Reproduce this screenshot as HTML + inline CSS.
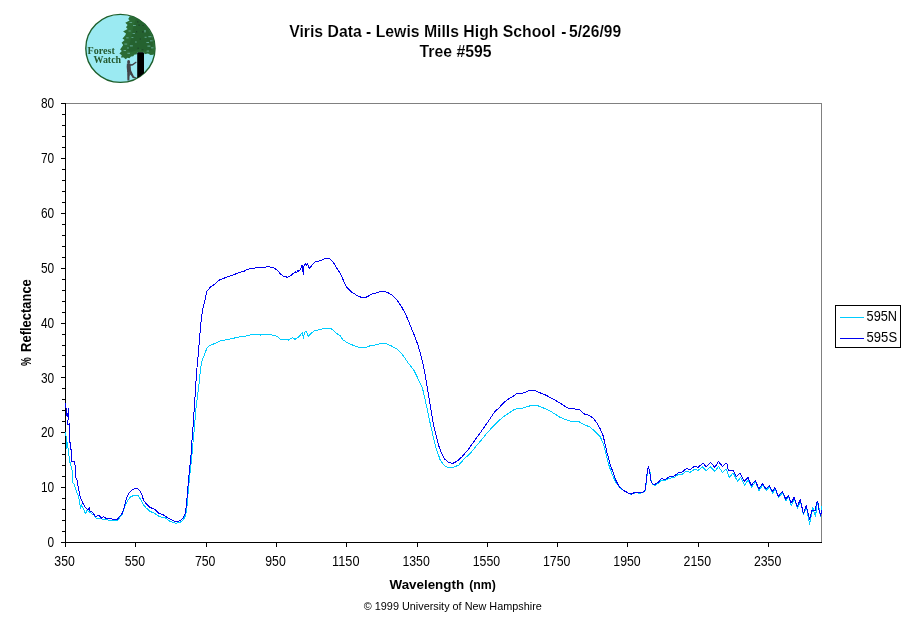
<!DOCTYPE html>
<html lang="en"><head><meta charset="utf-8"><title>Viris Data - Lewis Mills High School - 5/26/99 - Tree #595</title>
<style>html,body{margin:0;padding:0;background:#fff;}body{width:911px;height:623px;overflow:hidden;}svg{display:block;}text{font-family:"Liberation Sans",Arial,sans-serif;fill:#000;}.t{font-size:13.9px;}.b{font-weight:bold;}</style></head><body>
<svg width="911" height="623" viewBox="0 0 911 623">
<rect x="0" y="0" width="911" height="623" fill="#fff"/>
<g id="logo">
<defs><clipPath id="lc"><ellipse cx="120.4" cy="48.4" rx="34.5" ry="34"/></clipPath></defs>
<ellipse cx="120.4" cy="48.4" rx="34.6" ry="34.0" fill="#9beaf2" stroke="#1e5f2c" stroke-width="1.4"/>
<g clip-path="url(#lc)">
<path d="M131.2 14 L128.2 19.1 L129.6 20.5 L125.3 22.8 L127.6 25 L126 27.2 L127.6 29 L123.1 31.6 L126 33.5 L125.3 35.3 L122.5 38.5 L124.6 40 L121.6 42.7 L123.2 45 L120.1 49.4 L121.8 51 L119.4 53.6 L121.8 55.2 L120.9 57.6 L123.8 57.6 L125.6 59.2 L127.6 57.8 L129.4 58.2 L131 56.4 L133.2 56.2 L134.6 54.6 L136.6 54.4 L137.2 52.6 L144 52.6 L144.6 54.2 L148 53.6 L150.5 55.1 L153.4 54.8 L156 52 L160 50 L160 10 Z" fill="#2b6c35"/>
<path d="M136 18 L140 20 L146 26 L150 33 L153 42 L152 50 L146 51 L141 49 L136 50.5 L131 52 L127.5 50 L129.5 44 L131.5 36 L133 28 Z" fill="#24602e" opacity="0.8"/>
<g fill="#9beaf2" opacity="0.55">
<rect x="129.5" y="22.2" width="2.6" height="0.8"/><rect x="133" y="25" width="2.8" height="0.9"/><rect x="128.5" y="30.6" width="2.2" height="0.8"/>
<rect x="132.6" y="33.2" width="2.4" height="0.8"/><rect x="126.2" y="37.4" width="2.4" height="0.9"/><rect x="131.4" y="37" width="2" height="0.8"/>
<rect x="124.4" y="43.6" width="2.8" height="0.9"/><rect x="129.8" y="45.4" width="3" height="1"/><rect x="144.6" y="36.8" width="2" height="0.9"/>
<rect x="148.4" y="36.2" width="3" height="1"/><rect x="146.4" y="42" width="2.6" height="0.9"/><rect x="150" y="40.4" width="2.6" height="0.9"/>
<rect x="147.4" y="45.6" width="3" height="1"/><rect x="151" y="47.4" width="2.4" height="0.9"/><rect x="123.6" y="50" width="2.4" height="0.9"/>
<rect x="127.4" y="52.8" width="2.6" height="0.9"/><rect x="146.6" y="50.6" width="2.4" height="0.9"/><rect x="144.4" y="30" width="1.2" height="2.4"/>
<rect x="127" y="47.6" width="2" height="0.8"/><rect x="135" y="41.6" width="1.8" height="0.8"/>
</g>
<g fill="#1c3a2a" opacity="0.85">
<rect x="137" y="21.4" width="1.4" height="1"/><rect x="142.4" y="25" width="1.4" height="0.9"/><rect x="138.6" y="24.4" width="0.9" height="1.6"/>
<rect x="136.2" y="31" width="0.9" height="1.4"/><rect x="142" y="31.4" width="1.6" height="1"/><rect x="141.4" y="49.4" width="2" height="1"/>
<rect x="137.6" y="47.6" width="1" height="1.4"/><rect x="139.8" y="38.4" width="0.9" height="1.2"/>
</g>
<path d="M137.2 79 L137.2 53.4 Q137.2 52.3 138.4 52.3 L142.8 52.3 Q144 52.3 144 53.4 L144 79 Z" fill="#000"/>
<g fill="#434348">
<ellipse cx="128.6" cy="62" rx="1.5" ry="1.9"/>
<path d="M126.9 63.4 L130.3 63.6 L130.7 66.5 L131.1 71.3 L127.2 71.9 L126.7 67 Z"/>
<path d="M129.6 64.3 L132.4 64 L136 61.4 L136.7 62.6 L132.8 65.6 L129.8 66 Z"/>
<path d="M127.2 70.8 L129.7 70.8 L129.4 80.6 L127.4 80.6 Z"/>
<path d="M129.2 70.9 L131.1 70.6 L134 76.4 L136 77.3 L135.8 78.4 L132.7 78 L130.5 74.4 L129.4 76.4 Z"/>
</g>
</g>
<text x="87.6" y="53.7" textLength="27.3" lengthAdjust="spacingAndGlyphs" style="font-family:'Liberation Serif','Times New Roman',serif;font-weight:bold;font-size:9.8px;fill:#265a30">Forest</text>
<text x="93.5" y="62.6" textLength="27.6" lengthAdjust="spacingAndGlyphs" style="font-family:'Liberation Serif','Times New Roman',serif;font-weight:bold;font-size:9.8px;fill:#265a30">Watch</text>
</g>

<text class="b" y="36.8" style="font-size:15.7px;stroke:#fff;stroke-width:0.12px"><tspan x="289.2" textLength="266.2" lengthAdjust="spacingAndGlyphs">Viris Data - Lewis Mills High School</tspan><tspan x="557"> -</tspan><tspan x="564.7" textLength="56.4" lengthAdjust="spacingAndGlyphs"> 5/26/99</tspan></text>
<text class="b" x="419.6" y="57.2" textLength="72" lengthAdjust="spacingAndGlyphs" style="font-size:15.7px;stroke:#fff;stroke-width:0.12px">Tree #595</text>
<g shape-rendering="crispEdges">
<rect x="66" y="103" width="756" height="1" fill="#808080"/>
<rect x="821" y="103" width="1" height="439" fill="#808080"/>
<rect x="65" y="103" width="1" height="444" fill="#000"/>
<rect x="61" y="542" width="761" height="1" fill="#000"/>
<rect x="61" y="542" width="4" height="1" fill="#000"/>
<rect x="62" y="531" width="3" height="1" fill="#000"/>
<rect x="62" y="520" width="3" height="1" fill="#000"/>
<rect x="62" y="509" width="3" height="1" fill="#000"/>
<rect x="62" y="498" width="3" height="1" fill="#000"/>
<rect x="61" y="487" width="4" height="1" fill="#000"/>
<rect x="62" y="476" width="3" height="1" fill="#000"/>
<rect x="62" y="465" width="3" height="1" fill="#000"/>
<rect x="62" y="454" width="3" height="1" fill="#000"/>
<rect x="62" y="443" width="3" height="1" fill="#000"/>
<rect x="61" y="432" width="4" height="1" fill="#000"/>
<rect x="62" y="421" width="3" height="1" fill="#000"/>
<rect x="62" y="410" width="3" height="1" fill="#000"/>
<rect x="62" y="399" width="3" height="1" fill="#000"/>
<rect x="62" y="388" width="3" height="1" fill="#000"/>
<rect x="61" y="377" width="4" height="1" fill="#000"/>
<rect x="62" y="366" width="3" height="1" fill="#000"/>
<rect x="62" y="355" width="3" height="1" fill="#000"/>
<rect x="62" y="345" width="3" height="1" fill="#000"/>
<rect x="62" y="334" width="3" height="1" fill="#000"/>
<rect x="61" y="323" width="4" height="1" fill="#000"/>
<rect x="62" y="312" width="3" height="1" fill="#000"/>
<rect x="62" y="301" width="3" height="1" fill="#000"/>
<rect x="62" y="290" width="3" height="1" fill="#000"/>
<rect x="62" y="279" width="3" height="1" fill="#000"/>
<rect x="61" y="268" width="4" height="1" fill="#000"/>
<rect x="62" y="257" width="3" height="1" fill="#000"/>
<rect x="62" y="246" width="3" height="1" fill="#000"/>
<rect x="62" y="235" width="3" height="1" fill="#000"/>
<rect x="62" y="224" width="3" height="1" fill="#000"/>
<rect x="61" y="213" width="4" height="1" fill="#000"/>
<rect x="62" y="202" width="3" height="1" fill="#000"/>
<rect x="62" y="191" width="3" height="1" fill="#000"/>
<rect x="62" y="180" width="3" height="1" fill="#000"/>
<rect x="62" y="169" width="3" height="1" fill="#000"/>
<rect x="61" y="158" width="4" height="1" fill="#000"/>
<rect x="62" y="147" width="3" height="1" fill="#000"/>
<rect x="62" y="136" width="3" height="1" fill="#000"/>
<rect x="62" y="125" width="3" height="1" fill="#000"/>
<rect x="62" y="114" width="3" height="1" fill="#000"/>
<rect x="61" y="103" width="4" height="1" fill="#000"/>
<rect x="65" y="542" width="1" height="5" fill="#000"/>
<rect x="135" y="542" width="1" height="5" fill="#000"/>
<rect x="206" y="542" width="1" height="5" fill="#000"/>
<rect x="276" y="542" width="1" height="5" fill="#000"/>
<rect x="346" y="542" width="1" height="5" fill="#000"/>
<rect x="417" y="542" width="1" height="5" fill="#000"/>
<rect x="487" y="542" width="1" height="5" fill="#000"/>
<rect x="557" y="542" width="1" height="5" fill="#000"/>
<rect x="627" y="542" width="1" height="5" fill="#000"/>
<rect x="698" y="542" width="1" height="5" fill="#000"/>
<rect x="768" y="542" width="1" height="5" fill="#000"/>
</g>
<text class="t" x="54.1" y="547.1" text-anchor="end" textLength="6.6" lengthAdjust="spacingAndGlyphs">0</text>
<text class="t" x="54.1" y="492.2" text-anchor="end" textLength="13.2" lengthAdjust="spacingAndGlyphs">10</text>
<text class="t" x="54.1" y="437.4" text-anchor="end" textLength="13.2" lengthAdjust="spacingAndGlyphs">20</text>
<text class="t" x="54.1" y="382.5" text-anchor="end" textLength="13.2" lengthAdjust="spacingAndGlyphs">30</text>
<text class="t" x="54.1" y="327.7" text-anchor="end" textLength="13.2" lengthAdjust="spacingAndGlyphs">40</text>
<text class="t" x="54.1" y="272.8" text-anchor="end" textLength="13.2" lengthAdjust="spacingAndGlyphs">50</text>
<text class="t" x="54.1" y="217.9" text-anchor="end" textLength="13.2" lengthAdjust="spacingAndGlyphs">60</text>
<text class="t" x="54.1" y="163.1" text-anchor="end" textLength="13.2" lengthAdjust="spacingAndGlyphs">70</text>
<text class="t" x="54.1" y="108.2" text-anchor="end" textLength="13.2" lengthAdjust="spacingAndGlyphs">80</text>
<text class="t" x="64.6" y="566" text-anchor="middle" textLength="20.5" lengthAdjust="spacingAndGlyphs">350</text>
<text class="t" x="134.9" y="566" text-anchor="middle" textLength="20.5" lengthAdjust="spacingAndGlyphs">550</text>
<text class="t" x="205.2" y="566" text-anchor="middle" textLength="20.5" lengthAdjust="spacingAndGlyphs">750</text>
<text class="t" x="275.5" y="566" text-anchor="middle" textLength="20.5" lengthAdjust="spacingAndGlyphs">950</text>
<text class="t" x="345.8" y="566" text-anchor="middle" textLength="27.4" lengthAdjust="spacingAndGlyphs">1150</text>
<text class="t" x="416.1" y="566" text-anchor="middle" textLength="27.4" lengthAdjust="spacingAndGlyphs">1350</text>
<text class="t" x="486.4" y="566" text-anchor="middle" textLength="27.4" lengthAdjust="spacingAndGlyphs">1550</text>
<text class="t" x="556.7" y="566" text-anchor="middle" textLength="27.4" lengthAdjust="spacingAndGlyphs">1750</text>
<text class="t" x="627.0" y="566" text-anchor="middle" textLength="27.4" lengthAdjust="spacingAndGlyphs">1950</text>
<text class="t" x="697.3" y="566" text-anchor="middle" textLength="27.4" lengthAdjust="spacingAndGlyphs">2150</text>
<text class="t" x="767.6" y="566" text-anchor="middle" textLength="27.4" lengthAdjust="spacingAndGlyphs">2350</text>
<text class="b" y="588.7" style="font-size:13.6px"><tspan x="389.5" textLength="74.6" lengthAdjust="spacingAndGlyphs">Wavelength</tspan><tspan x="465.8" textLength="30.1" lengthAdjust="spacingAndGlyphs"> (nm)</tspan></text>
<text class="b" transform="translate(31 366) rotate(-90)" y="0" style="font-size:13.8px"><tspan x="0" textLength="8.8" lengthAdjust="spacingAndGlyphs">%</tspan><tspan x="10.5" textLength="76.3" lengthAdjust="spacingAndGlyphs"> Reflectance</tspan></text>
<text x="363.8" y="610" textLength="178" lengthAdjust="spacingAndGlyphs" style="font-size:11.3px">© 1999 University of New Hampshire</text>
<g fill="none" stroke-width="1" stroke-linejoin="round" shape-rendering="crispEdges">
<polyline stroke="#00ccff" points="65.5,432.5 66.3,438.0 66.8,438.8 66.5,448.8 67.5,442.5 68.5,452.5 70.0,462.5 72.0,470.0 72.5,482.5 74.0,483.8 75.6,488.8 78.8,497.5 80.6,508.1 81.5,505.0 83.1,508.1 85.6,513.8 86.9,510.0 90.0,512.5 93.8,515.0 96.3,518.1 101.3,518.8 107.5,520.0 118.1,520.0 122.5,513.8 125.0,506.3 127.5,500.6 130.6,496.9 133.8,495.4 138.1,495.4 140.6,499.4 143.1,504.4 146.3,508.1 150.0,511.3 155.0,513.6 160.0,516.9 165.0,517.7 170.0,521.3 175.0,523.1 179.4,522.9 183.1,520.0 185.6,515.6 187.0,506.3 187.9,495.0 188.8,485.0 189.8,475.0 190.8,465.0 191.6,460.0 192.5,447.5 193.8,435.0 195.0,420.0 196.3,405.0 198.0,392.5 198.8,387.0 199.5,377.5 201.0,366.3 202.5,358.8 204.4,355.0 206.9,348.1 210.0,345.3 215.0,343.5 220.0,341.0 226.3,339.8 232.5,338.5 238.8,337.0 245.0,336.3 251.3,334.8 253.5,334.2 254.5,335.0 257.5,334.4 259.8,334.2 260.6,335.2 261.6,334.4 263.8,334.8 265.5,334.0 268.8,334.1 271.5,334.2 272.3,335.1 273.8,335.0 277.5,336.7 280.0,339.0 286.3,339.0 288.1,340.3 292.5,337.5 295.0,339.4 298.1,337.3 300.6,335.0 302.3,332.3 303.5,338.8 304.4,332.5 306.3,331.3 308.1,336.3 311.3,333.1 315.0,330.3 320.0,329.8 323.8,328.4 330.0,328.4 332.5,329.4 336.3,333.1 340.0,335.6 343.1,340.0 347.5,342.8 352.5,345.0 358.8,347.3 366.3,347.3 371.3,345.3 376.3,344.9 380.6,343.4 385.4,343.5 391.3,345.9 396.6,348.8 401.9,353.8 408.8,363.8 413.8,370.0 418.1,378.8 422.3,387.5 424.4,396.3 426.9,407.5 428.6,416.0 430.0,422.5 433.1,436.3 436.3,448.8 440.0,459.4 443.8,465.0 447.5,467.5 453.1,467.5 458.8,465.0 465.0,458.1 469.4,454.4 475.0,447.5 481.3,440.0 487.5,432.5 492.0,427.5 496.0,423.5 500.0,419.7 505.0,415.6 510.0,412.3 515.0,409.1 522.5,408.1 527.5,406.5 532.5,405.3 537.5,405.6 543.8,408.1 550.0,411.0 555.0,414.0 560.0,417.3 565.0,419.4 570.6,421.3 578.8,421.5 585.0,425.2 590.0,426.8 595.0,431.6 600.4,437.0 603.8,445.0 606.3,455.0 608.8,465.0 611.9,473.8 615.6,481.9 619.4,487.1 623.8,490.9 628.1,493.2 631.3,494.4 635.0,492.8 640.0,493.2 643.8,492.5 645.6,489.6 646.5,480.0 647.5,471.5 648.5,467.0 650.0,472.2 651.2,481.6 652.7,484.8 655.0,485.3 658.1,483.5 661.3,480.0 665.0,480.4 670.0,478.1 674.4,477.5 678.8,474.0 682.5,474.0 686.3,471.2 690.0,472.4 694.4,469.4 698.1,470.4 702.5,466.9 706.3,470.6 710.6,466.9 714.8,471.5 718.5,466.3 722.5,472.5 726.0,468.8 729.4,477.5 733.1,472.8 737.5,481.3 740.6,477.5 744.8,485.3 748.1,479.5 751.5,487.2 755.5,481.8 759.0,490.6 762.7,485.2 766.2,490.2 769.6,487.0 772.8,493.2 775.2,489.0 778.5,497.6 782.6,492.6 785.9,500.6 788.7,496.8 791.2,505.5 794.2,498.8 797.4,508.6 800.4,501.0 803.4,514.6 806.4,507.0 809.6,524.4 812.8,507.7 815.5,516.5 817.0,505.0 818.2,503.0 819.5,511.5 820.8,517.0 821.6,505.9"/>
<polyline stroke="#0000f0" points="65.5,403.1 66.0,407.5 66.5,415.0 67.6,417.0 68.5,408.8 67.8,425.0 69.5,423.8 69.8,442.5 70.5,443.0 70.2,450.0 71.5,449.4 71.8,461.3 73.0,461.3 74.5,461.9 75.5,467.5 75.6,477.5 77.0,480.0 78.5,488.8 80.0,496.3 82.5,502.5 85.0,506.9 88.1,510.0 89.5,507.3 90.0,511.3 92.8,512.5 95.6,516.9 97.5,515.6 99.4,515.6 101.3,518.1 103.5,516.5 106.9,519.0 109.4,518.1 111.9,519.1 117.5,519.1 121.9,513.8 123.8,508.8 125.6,501.3 127.5,495.6 130.0,491.9 132.5,489.4 136.3,488.5 138.8,489.4 141.3,493.1 143.5,500.0 146.3,503.8 149.4,506.9 152.5,508.5 155.3,509.6 158.8,513.4 163.2,514.8 168.1,518.1 173.1,520.6 176.9,522.1 180.0,520.6 183.1,518.1 185.0,514.4 186.3,506.3 187.3,495.0 188.1,485.0 189.0,475.0 190.0,465.0 190.8,460.0 191.3,447.5 192.5,435.0 193.5,420.0 194.5,405.0 195.5,390.0 196.5,372.5 197.8,360.0 198.8,347.5 199.8,335.0 201.0,322.5 202.2,312.0 203.1,307.5 205.0,300.0 206.9,291.3 210.0,287.5 215.0,283.8 218.8,280.3 225.0,277.8 232.5,275.3 238.8,272.5 243.8,271.5 246.9,269.4 252.5,268.5 257.5,267.5 263.8,267.9 267.5,266.5 273.8,267.8 277.5,270.6 281.0,274.5 283.1,276.0 284.5,277.0 285.5,276.2 286.8,277.2 288.1,276.9 289.4,276.9 290.0,275.8 291.0,276.0 292.5,273.8 293.6,273.6 294.2,272.3 295.0,273.1 295.8,271.6 296.6,272.4 297.5,271.0 298.3,271.6 299.0,269.8 299.8,270.4 300.6,268.6 301.5,267.8 302.0,265.0 303.3,274.4 304.0,266.3 305.6,263.5 306.5,265.6 307.5,263.5 309.4,268.5 312.5,264.4 315.6,261.3 320.0,260.9 323.8,259.1 327.5,258.1 330.6,259.4 333.1,261.9 336.3,267.5 340.6,273.8 343.8,281.3 346.9,287.5 351.3,291.9 356.3,295.0 360.6,297.1 366.3,297.1 370.0,295.2 372.8,293.3 376.6,293.0 380.3,291.5 385.0,291.4 388.8,293.1 392.5,295.3 396.9,300.0 401.3,306.3 405.0,313.1 408.1,320.0 411.3,328.1 415.0,336.9 418.1,345.6 420.6,353.8 421.5,357.9 423.8,367.5 425.6,377.5 427.5,388.8 429.4,400.0 431.3,411.3 432.5,420.0 435.0,431.3 438.1,443.8 441.3,453.1 445.0,459.4 448.8,462.5 452.5,463.5 456.9,461.3 462.5,456.3 468.8,448.8 475.0,440.0 481.3,431.3 487.5,422.5 491.3,416.9 495.0,411.3 498.8,408.1 503.8,402.5 508.8,398.8 512.5,396.9 516.9,393.5 523.1,393.1 529.4,390.4 534.4,390.4 540.0,392.8 546.3,395.3 552.5,398.8 558.8,402.3 563.8,405.6 568.1,408.1 573.8,408.8 579.4,409.6 583.8,413.8 589.4,415.4 593.8,418.8 597.5,423.8 600.6,429.7 603.3,436.2 605.0,443.8 607.3,453.8 610.0,463.8 613.1,472.5 616.3,481.3 619.4,486.9 623.8,490.6 628.1,492.9 631.3,494.1 635.0,492.3 640.0,492.5 643.8,491.9 645.4,489.4 646.3,480.0 647.3,471.3 648.3,466.3 649.8,471.9 651.0,481.3 652.5,483.8 655.0,484.4 658.1,482.5 661.3,478.8 665.0,479.4 670.0,476.6 674.4,476.0 678.8,472.5 682.5,471.9 686.3,468.6 690.0,469.6 694.4,466.4 698.1,467.3 703.1,463.1 706.3,466.9 710.6,462.5 714.8,467.3 718.5,461.5 722.5,466.5 726.0,463.1 727.5,464.4 728.1,470.0 730.6,471.0 733.1,470.3 736.3,476.9 740.0,473.1 744.4,481.3 747.9,477.3 751.3,485.6 755.3,480.3 758.8,488.8 762.5,483.8 766.0,488.8 769.4,485.6 772.6,491.7 775.0,487.6 778.3,496.3 782.4,491.4 785.7,499.2 788.5,495.5 791.2,503.0 794.0,497.5 797.2,506.6 800.2,499.7 803.4,513.4 806.2,505.7 809.6,519.2 811.9,510.8 815.5,510.3 816.4,502.4 817.7,501.3 819.0,510.3 820.8,515.6 821.5,510.3"/>
</g>
<g shape-rendering="crispEdges">
<rect x="835.5" y="305.5" width="65" height="42" fill="#fff" stroke="#000" stroke-width="1"/>
<rect x="840" y="317" width="24" height="1" fill="#00ccff"/>
<rect x="840" y="338" width="24" height="1" fill="#0000f0"/>
</g>
<text class="t" x="866.6" y="320.8" textLength="30.5" lengthAdjust="spacingAndGlyphs" style="font-size:13.9px">595N</text>
<text class="t" x="866.6" y="341.8" textLength="30.5" lengthAdjust="spacingAndGlyphs" style="font-size:13.9px">595S</text>
</svg></body></html>
